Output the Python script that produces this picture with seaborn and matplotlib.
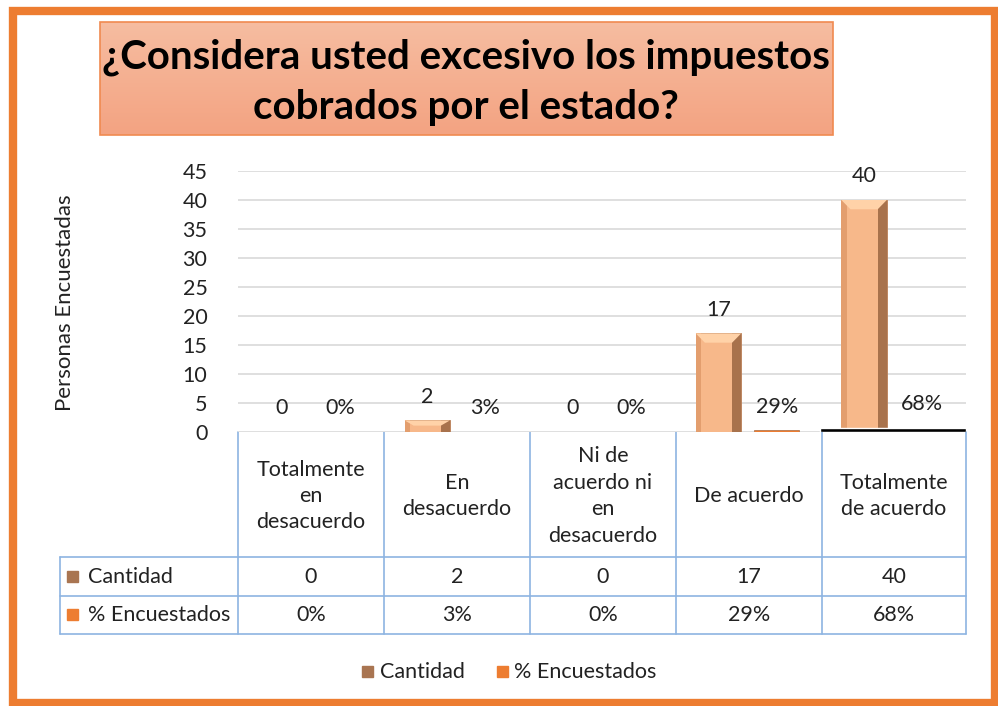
import numpy as np
import pandas as pd
import matplotlib
matplotlib.use("Agg")
import matplotlib.pyplot as plt
from matplotlib.patches import Rectangle, Polygon
import seaborn as sns

# data
categorias = ["Totalmente\nen\ndesacuerdo", "En\ndesacuerdo", "Ni de\nacuerdo ni\nen\ndesacuerdo",
              "De acuerdo", "Totalmente\nde acuerdo"]
cantidad = [0, 2, 0, 17, 40]
porcentaje = [0.00, 0.03, 0.00, 0.29, 0.68]
series = ["Cantidad", "% Encuestados"]
yticks = [0, 5, 10, 15, 20, 25, 30, 35, 40, 45]

sns.set_theme(style="white")
plt.rcParams["font.family"] = ["Lato", "DejaVu Sans"]

W, H = 998, 706
fig = plt.figure(figsize=(W / 100, H / 100), dpi=100)

# overlay axes in pixel coords for frame, title box and data table
bg = fig.add_axes([0, 0, 1, 1])
bg.set_xlim(0, W)
bg.set_ylim(H, 0)
bg.axis("off")

# orange outer frame
bg.add_patch(Rectangle((13, 11), 982, 692, fill=False, edgecolor="#ED7D31", lw=6))

# title box with gradient
grad = np.linspace(0, 1, 50).reshape(-1, 1)
top_c = np.array([0.965, 0.74, 0.63])
bot_c = np.array([0.955, 0.64, 0.51])
img = top_c + (bot_c - top_c) * grad[..., None]
bg.imshow(img, extent=(100, 833, 135, 22), aspect="auto", zorder=1)
bg.add_patch(Rectangle((100, 22), 733, 113, fill=False, edgecolor="#F08A50", lw=1.2, zorder=2))
bg.text(466, 57, "¿Considera usted excesivo los impuestos", ha="center", va="center",
        fontsize=29, fontweight="bold", color="black", zorder=3)
bg.text(466, 107, "cobrados por el estado?", ha="center", va="center",
        fontsize=29, fontweight="bold", color="black", zorder=3)

# main chart
x0, x1, ytop, ybot = 238, 966, 171, 432
ax = fig.add_axes([x0 / W, 1 - ybot / H, (x1 - x0) / W, (ybot - ytop) / H])

df = pd.DataFrame({
    "cat": list(range(5)) * 2,
    "serie": [series[0]] * 5 + [series[1]] * 5,
    "valor": cantidad + porcentaje,
})
sns.barplot(data=df, x="cat", y="valor", hue="serie", palette=["#F7B88A", "#ED7D31"],
            saturation=1, gap=0.22, ax=ax, legend=False, edgecolor="#B47A52", linewidth=0.6, zorder=3)

# shading on cantidad bars to mimic bevel
for p in ax.patches[:5]:
    if p.get_height() > 0:
        bx, bw, bh = p.get_x(), p.get_width(), p.get_height()
        d = min(bh * 0.45, 1.6)
        ax.add_patch(Rectangle((bx + bw * 0.8, 0), bw * 0.2, bh, color="#A8724C", zorder=4, lw=0))
        ax.add_patch(Rectangle((bx, 0), bw * 0.12, bh, color="#E39E6E", zorder=4, lw=0))
        ax.add_patch(Polygon([(bx, bh), (bx + bw, bh), (bx + bw * 0.8, bh - d), (bx + bw * 0.2, bh - d)],
                             closed=True, color="#FFD2A8", zorder=5, lw=0))

# 68% selected bar outline (black)
ax.bar(4, porcentaje[4] * 0.9, width=1.0, color="black", zorder=6)

ax.set_xlim(-0.5, 4.5)
ax.set_ylim(0, 45)
ax.set_yticks(yticks)
ax.set_yticklabels([str(t) for t in yticks], fontsize=15.5, color="#222222")
ax.tick_params(axis="y", pad=22, length=0)
ax.set_xticks([])
ax.set_xlabel("")
ax.set_ylabel("")
ax.grid(axis="y", color="#D9D9D9", lw=1.2, zorder=0)
for s in ax.spines.values():
    s.set_visible(False)

for i in range(5):
    ax.annotate(str(cantidad[i]), (i - 0.2, cantidad[i]), xytext=(0, 17), textcoords="offset points",
                ha="center", va="center", fontsize=15.5, color="#222222")
    ax.annotate(f"{porcentaje[i]:.0%}", (i + 0.2, porcentaje[i]), xytext=(0, 17), textcoords="offset points",
                ha="center", va="center", fontsize=15.5, color="#222222")

fig.text(65 / W, 1 - 303 / H, "Personas Encuestadas", rotation=90, ha="center", va="center",
         fontsize=16, color="#222222")

# data table
lc = "#8DB4E2"
colx = [238, 384, 530, 676, 822, 966]
for x in colx:
    bg.plot([x, x], [432, 634], color=lc, lw=1.2)
bg.plot([60, 60], [557, 634], color=lc, lw=1.2)
for y in [557, 596, 634]:
    bg.plot([60, 966], [y, y], color=lc, lw=1.2)

for i, lab in enumerate(categorias):
    cx = (colx[i] + colx[i + 1]) / 2
    bg.text(cx, 496, lab, ha="center", va="center", fontsize=15.5, linespacing=1.4, color="#222222")
    bg.text(cx, 577, str(cantidad[i]), ha="center", va="center", fontsize=15.5, color="#222222")
    bg.text(cx, 615, f"{porcentaje[i]:.0%}", ha="center", va="center", fontsize=15.5, color="#222222")

bg.add_patch(Rectangle((67, 571), 11, 11, color="#A97551"))
bg.text(88, 577, series[0], ha="left", va="center", fontsize=15.5, color="#222222")
bg.add_patch(Rectangle((67, 609), 11, 11, color="#ED7D31"))
bg.text(88, 615, series[1], ha="left", va="center", fontsize=15.5, color="#222222")

# legend
bg.add_patch(Rectangle((362, 666), 11, 11, color="#A97551"))
bg.text(380, 672, series[0], ha="left", va="center", fontsize=15.5, color="#222222")
bg.add_patch(Rectangle((497, 666), 11, 11, color="#ED7D31"))
bg.text(514, 672, series[1], ha="left", va="center", fontsize=15.5, color="#222222")

fig.savefig("out.png", dpi=100)
